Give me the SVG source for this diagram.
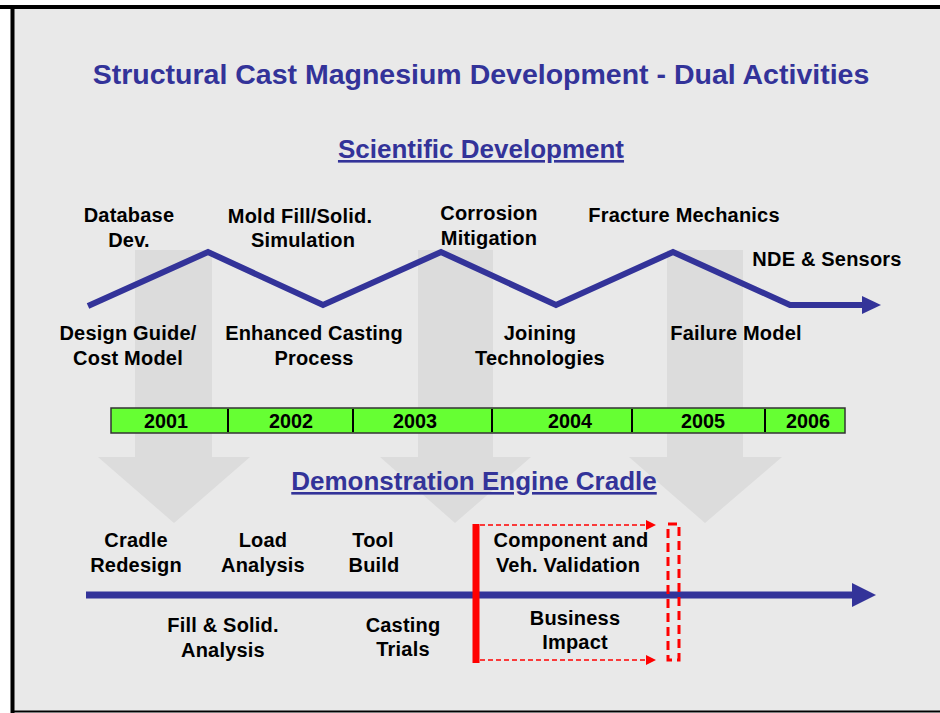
<svg xmlns="http://www.w3.org/2000/svg" width="940" height="713" viewBox="0 0 940 713">
<defs>
<style>
.t{font-family:"Liberation Sans",Arial,sans-serif;font-weight:bold;fill:#000;font-size:20px;letter-spacing:0.2px;text-anchor:middle}
.h{font-family:"Liberation Sans",Arial,sans-serif;font-weight:bold;fill:#333399;text-anchor:middle}
.y{font-family:"Liberation Sans",Arial,sans-serif;font-weight:bold;fill:#000;font-size:21px;text-anchor:middle}
.ga{fill:#dcdcdc}
.div{stroke:#000;stroke-width:2}
</style>
<marker id="ra" viewBox="0 0 10 10" refX="10" refY="5" markerWidth="10" markerHeight="10" markerUnits="userSpaceOnUse" orient="auto"><path d="M0,0 L10,5 L0,10 Z" fill="#ff0000"/></marker>
</defs>
<rect x="0" y="0" width="940" height="713" fill="#ffffff"/>
<rect x="12" y="7" width="928" height="704" fill="#e9e9e9"/>
<line x1="0" y1="7" x2="940" y2="7" stroke="#000" stroke-width="4"/>
<line x1="12.5" y1="7" x2="12.5" y2="713" stroke="#000" stroke-width="4"/>
<line x1="12" y1="711.5" x2="940" y2="711.5" stroke="#000" stroke-width="2"/>

<g id="bg-arrows">
<polygon class="ga" points="135,250 212,250 212,457 250,457 174,523 98,457 135,457"/>
<polygon class="ga" points="418,250 493,250 493,457 531,457 455,523 380,457 418,457"/>
<polygon class="ga" points="667,250 743,250 743,457 782,457 705,523 629,457 667,457"/>
</g>

<g id="title"><text class="h" x="481" y="84" font-size="28.5">Structural Cast Magnesium Development - Dual Activities</text></g>
<g id="sci-heading"><text class="h" x="481" y="158" font-size="26" text-decoration="underline">Scientific Development</text></g>
<g id="demo-heading"><text class="h" x="474" y="490" font-size="26" text-decoration="underline">Demonstration Engine Cradle</text></g>

<g id="connectors">
<polyline points="88,306 208,252 323,305 441,252 556,305 673,252 790,305 864,305" fill="none" stroke="#333399" stroke-width="6" stroke-linejoin="miter"/>
<polygon points="862,296 881,305 862,314" fill="#333399"/>
<line x1="86" y1="595" x2="856" y2="595" stroke="#333399" stroke-width="7"/>
<polygon points="852,583 876,595 852,607" fill="#333399"/>
<line x1="480" y1="525" x2="656" y2="525" stroke="#ff0000" stroke-width="1.5" stroke-dasharray="5,3" marker-end="url(#ra)"/>
<line x1="480" y1="660" x2="656" y2="660" stroke="#ff0000" stroke-width="1.5" stroke-dasharray="5,3" marker-end="url(#ra)"/>
<line x1="476" y1="524" x2="476" y2="663" stroke="#ff0000" stroke-width="7"/>
<rect x="668" y="524" width="11" height="136" fill="none" stroke="#ff0000" stroke-width="3" stroke-dasharray="9,5"/>
</g>

<g id="timeline">
<rect x="111" y="408" width="734" height="25" fill="#66ff33" stroke="#333" stroke-width="1.5"/>
<line class="div" x1="228" y1="409" x2="228" y2="432"/>
<line class="div" x1="353" y1="409" x2="353" y2="432"/>
<line class="div" x1="492" y1="409" x2="492" y2="432"/>
<line class="div" x1="632" y1="409" x2="632" y2="432"/>
<line class="div" x1="765" y1="409" x2="765" y2="432"/>
<text class="y" x="166" y="428" textLength="44" lengthAdjust="spacingAndGlyphs">2001</text>
<text class="y" x="291" y="428" textLength="44" lengthAdjust="spacingAndGlyphs">2002</text>
<text class="y" x="415" y="428" textLength="44" lengthAdjust="spacingAndGlyphs">2003</text>
<text class="y" x="570" y="428" textLength="44" lengthAdjust="spacingAndGlyphs">2004</text>
<text class="y" x="703" y="428" textLength="44" lengthAdjust="spacingAndGlyphs">2005</text>
<text class="y" x="808" y="428" textLength="44" lengthAdjust="spacingAndGlyphs">2006</text>
</g>

<g id="n-database"><text class="t" x="129" y="222">Database</text><text class="t" x="129" y="247">Dev.</text></g>
<g id="n-moldfill"><text class="t" x="300" y="223">Mold Fill/Solid.</text><text class="t" x="303" y="247">Simulation</text></g>
<g id="n-corrosion"><text class="t" x="489" y="220">Corrosion</text><text class="t" x="489" y="245">Mitigation</text></g>
<g id="n-fracture"><text class="t" x="684" y="222">Fracture Mechanics</text></g>
<g id="n-nde"><text class="t" x="827" y="266">NDE &amp; Sensors</text></g>
<g id="n-design"><text class="t" x="128" y="340">Design Guide/</text><text class="t" x="128" y="365">Cost Model</text></g>
<g id="n-enhanced"><text class="t" x="314" y="340">Enhanced Casting</text><text class="t" x="314" y="365">Process</text></g>
<g id="n-joining"><text class="t" x="540" y="340">Joining</text><text class="t" x="540" y="365">Technologies</text></g>
<g id="n-failure"><text class="t" x="736" y="340">Failure Model</text></g>

<g id="n-cradle"><text class="t" x="136" y="547">Cradle</text><text class="t" x="136" y="572">Redesign</text></g>
<g id="n-load"><text class="t" x="263" y="547">Load</text><text class="t" x="263" y="572">Analysis</text></g>
<g id="n-tool"><text class="t" x="373" y="547">Tool</text><text class="t" x="374" y="572">Build</text></g>
<g id="n-component"><text class="t" x="571" y="547">Component and</text><text class="t" x="568" y="572">Veh. Validation</text></g>
<g id="n-fill"><text class="t" x="223" y="632">Fill &amp; Solid.</text><text class="t" x="223" y="657">Analysis</text></g>
<g id="n-casting"><text class="t" x="403" y="632">Casting</text><text class="t" x="403" y="656">Trials</text></g>
<g id="n-business"><text class="t" x="575" y="625">Business</text><text class="t" x="575" y="649">Impact</text></g>
</svg>
